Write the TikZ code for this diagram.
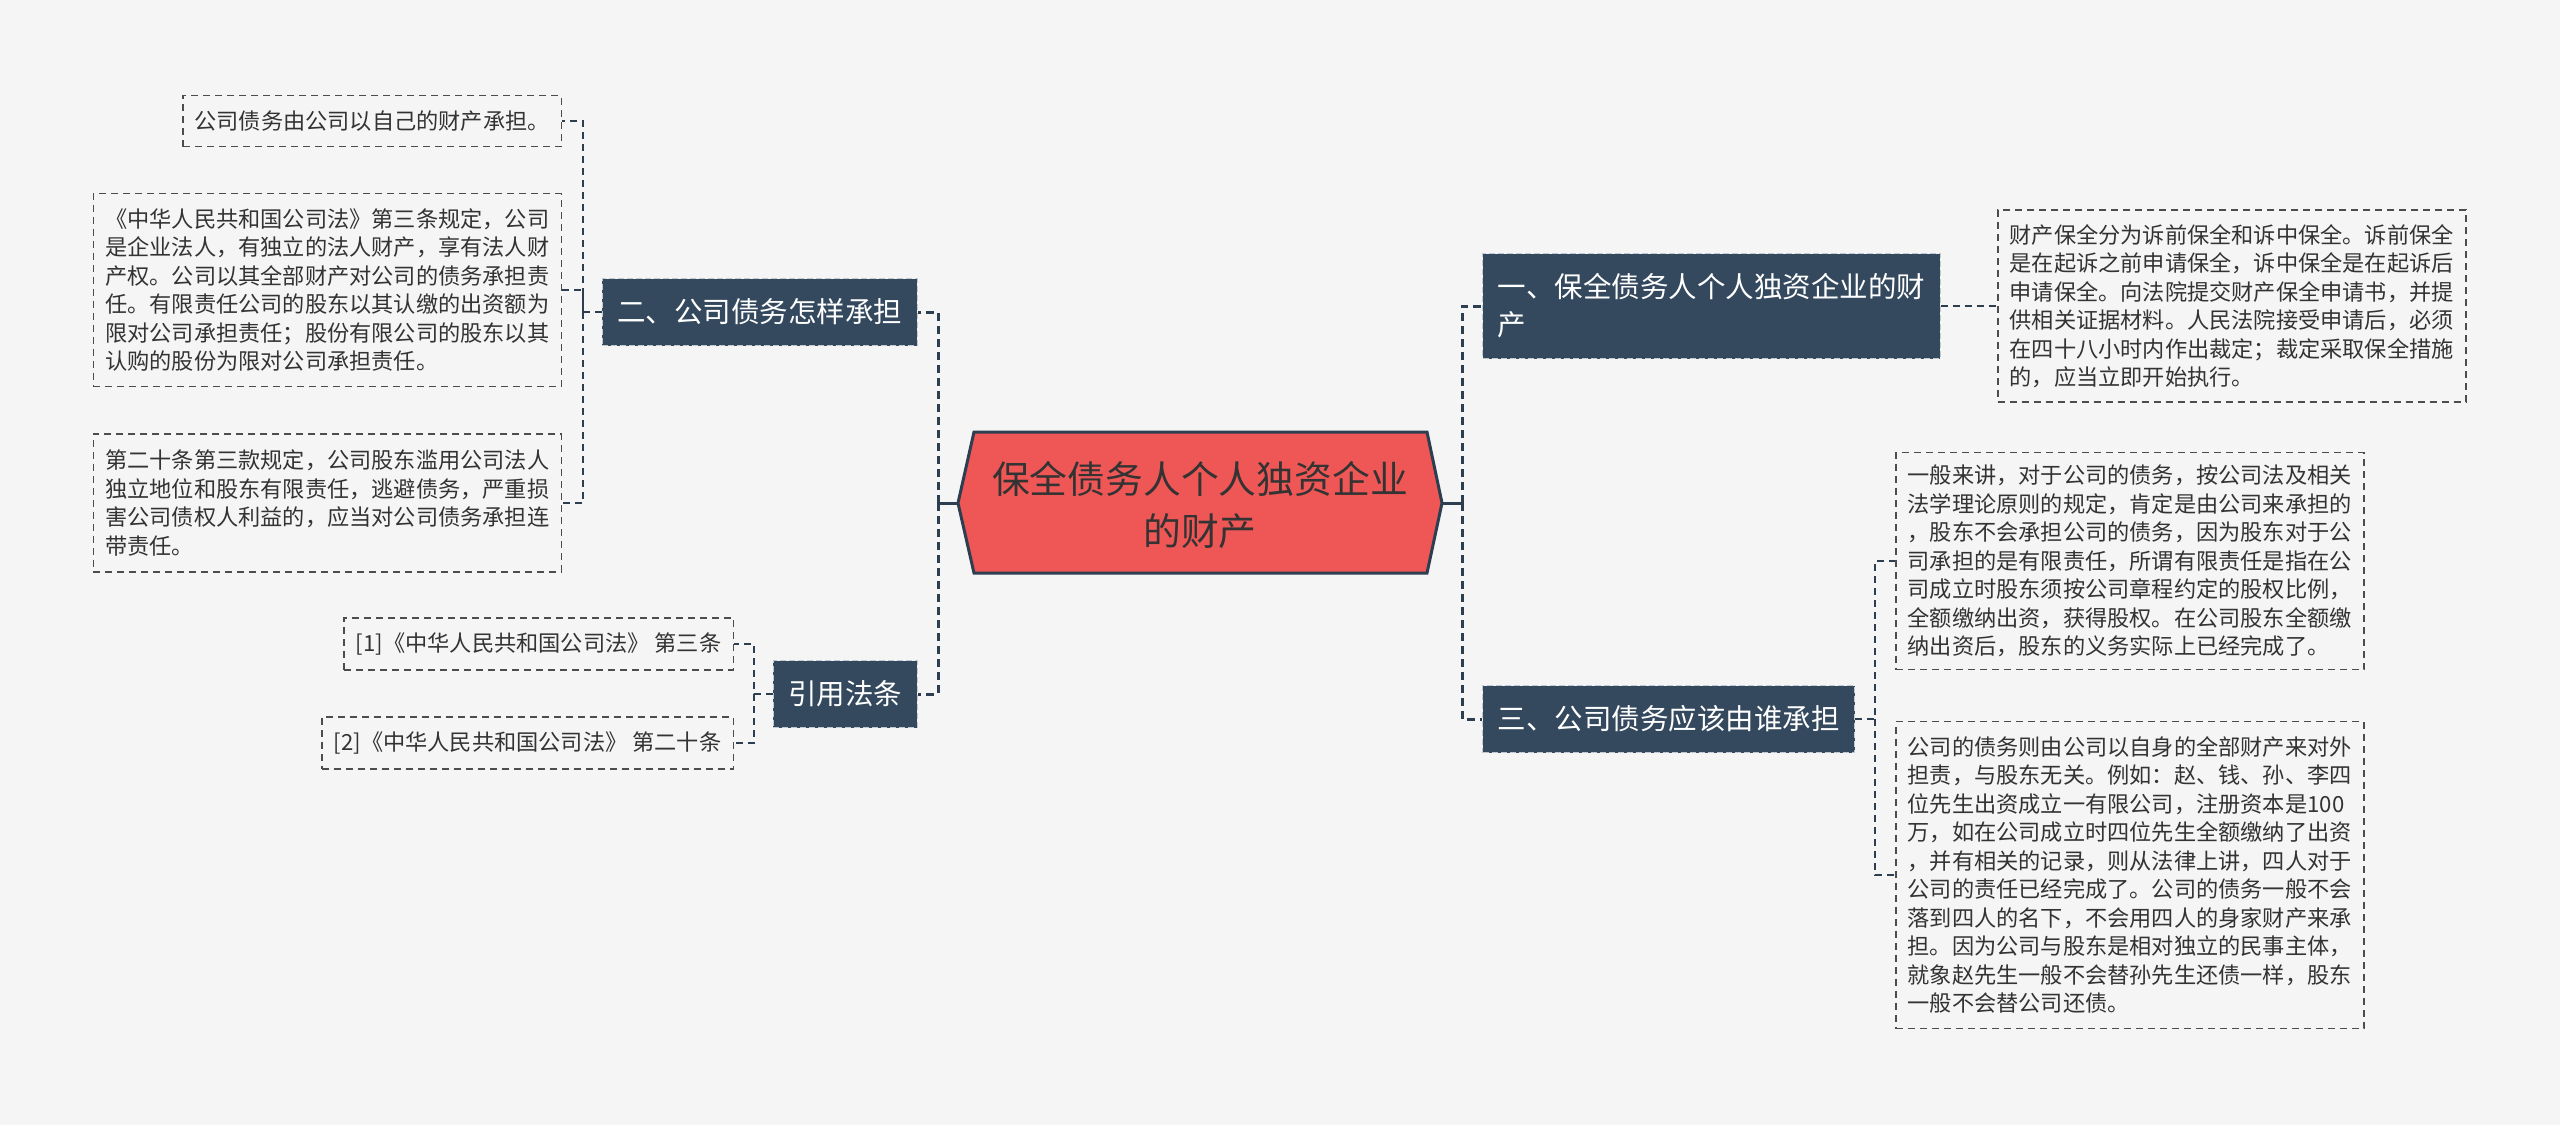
\documentclass[tikz,border=0pt]{standalone}
\usepackage{fontspec}
\setmainfont{Noto Sans CJK SC}
\definecolor{paper}{HTML}{F5F5F5}
\definecolor{slate}{HTML}{34495E}
\definecolor{hubred}{HTML}{EF5656}
\definecolor{wire}{HTML}{2C3E50}
\definecolor{ink}{HTML}{333333}
\begin{document}
\begin{tikzpicture}[x=1pt,y=-1pt,
    hubshape/.style={fill=hubred,draw=wire,line width=3pt,line join=miter},
    hub/.style={inner sep=0pt,align=center,text=black!80,font=\fontsize{37.8pt}{52pt}\selectfont},
    topic/.style={fill=slate,draw=white!70!slate,dash pattern=on 6pt off 3pt,line width=1.2pt,text=white,align=left,
        inner xsep=15pt,inner ysep=0pt,minimum height=67pt,font=\fontsize{28.5pt}{38pt}\selectfont},
    leaf/.style={draw=black!70,dash pattern=on 7pt off 5pt,line width=1.5pt,text=ink,align=left,
        inner xsep=12pt,inner ysep=0pt,font=\fontsize{22.2pt}{28.5pt}\selectfont},
    trunk/.style={wire,line width=3pt,dash pattern=on 8pt off 5pt},
    twig/.style={wire,line width=2pt,dash pattern=on 7pt off 5pt}]
    \fill[paper] (0,0) rectangle (2560,1125);
    \useasboundingbox (0,0) rectangle (2560,1125);

    \coordinate (hubW) at (958,503);
    \coordinate (hubE) at (1442,503);
    \filldraw[hubshape] (hubW) -- (974,432) -- (1427,432) -- (hubE) -- (1427,573) -- (974,573) -- cycle;
    \node[hub] (hub) at (1200,505) {保全债务人个人独资企业\\的财产};

    \node[topic,anchor=west,minimum height=105pt] (pres) at (1482,306) {一、保全债务人个人独资企业的财\\产};
    \node[topic,anchor=west] (whobear) at (1482,719) {三、公司债务应该由谁承担};
    \node[topic,anchor=east] (howbear) at (918,312) {二、公司债务怎样承担};
    \node[topic,anchor=east] (cite) at (918,694) {引用法条};

    \node[leaf,anchor=west,minimum height=192pt] (keep) at (1997,306) {财产保全分为诉前保全和诉中保全。诉前保全\\是在起诉之前申请保全，诉中保全是在起诉后\\申请保全。向法院提交财产保全申请书，并提\\供相关证据材料。人民法院接受申请后，必须\\在四十八小时内作出裁定；裁定采取保全措施\\的，应当立即开始执行。};
    \node[leaf,anchor=west,minimum height=217pt] (limit) at (1895,561) {一般来讲，对于公司的债务，按公司法及相关\\法学理论原则的规定，肯定是由公司来承担的\\，股东不会承担公司的债务，因为股东对于公\\司承担的是有限责任，所谓有限责任是指在公\\司成立时股东须按公司章程约定的股权比例，\\全额缴纳出资，获得股权。在公司股东全额缴\\纳出资后，股东的义务实际上已经完成了。};
    \node[leaf,anchor=west,minimum height=307pt] (example) at (1895,875) {公司的债务则由公司以自身的全部财产来对外\\担责，与股东无关。例如：赵、钱、孙、李四\\位先生出资成立一有限公司，注册资本是100\\万，如在公司成立时四位先生全额缴纳了出资\\，并有相关的记录，则从法律上讲，四人对于\\公司的责任已经完成了。公司的债务一般不会\\落到四人的名下，不会用四人的身家财产来承\\担。因为公司与股东是相对独立的民事主体，\\就象赵先生一般不会替孙先生还债一样，股东\\一般不会替公司还债。};

    \node[leaf,anchor=east,minimum height=51pt,inner xsep=11.5pt] (own) at (562,121) {公司债务由公司以自己的财产承担。};
    \node[leaf,anchor=east,minimum height=193pt] (art3) at (562,290) {《中华人民共和国公司法》第三条规定，公司\\是企业法人，有独立的法人财产，享有法人财\\产权。公司以其全部财产对公司的债务承担责\\任。有限责任公司的股东以其认缴的出资额为\\限对公司承担责任；股份有限公司的股东以其\\认购的股份为限对公司承担责任。};
    \node[leaf,anchor=east,minimum height=138pt] (art20) at (562,503) {第二十条第三款规定，公司股东滥用公司法人\\独立地位和股东有限责任，逃避债务，严重损\\害公司债权人利益的，应当对公司债务承担连\\带责任。};
    \node[leaf,anchor=east,minimum height=52pt] (ref1) at (734,644) {[1]《中华人民共和国公司法》 第三条};
    \node[leaf,anchor=east,minimum height=52pt] (ref2) at (734,743) {[2]《中华人民共和国公司法》 第二十条};

    \coordinate (hl) at (938,503);
    \coordinate (hr) at (1462,503);
    \coordinate (jhow) at (583,312);
    \coordinate (jcite) at (754,694);
    \coordinate (jwho) at (1875,719);

    \draw[wire,line width=3pt] (hubW) -- (hl);
    \draw[wire,line width=3pt] (hubE) -- (hr);
    \draw[trunk] (hl) |- (howbear.east);
    \draw[trunk] (hl) |- (cite.east);
    \draw[trunk] (hr) |- (pres.west);
    \draw[trunk] (hr) |- (whobear.west);

    \draw[twig] (pres.east) -- (keep.west);
    \draw[twig] (whobear.east) -- (jwho) |- (limit.west);
    \draw[twig] (jwho) |- (example.west);
    \draw[twig] (howbear.west) -- (jhow) |- (own.east);
    \draw[twig] (jhow) |- (art3.east);
    \draw[twig] (jhow) |- (art20.east);
    \draw[twig] (cite.west) -- (jcite) |- (ref1.east);
    \draw[twig] (jcite) |- (ref2.east);
\end{tikzpicture}
\end{document}
